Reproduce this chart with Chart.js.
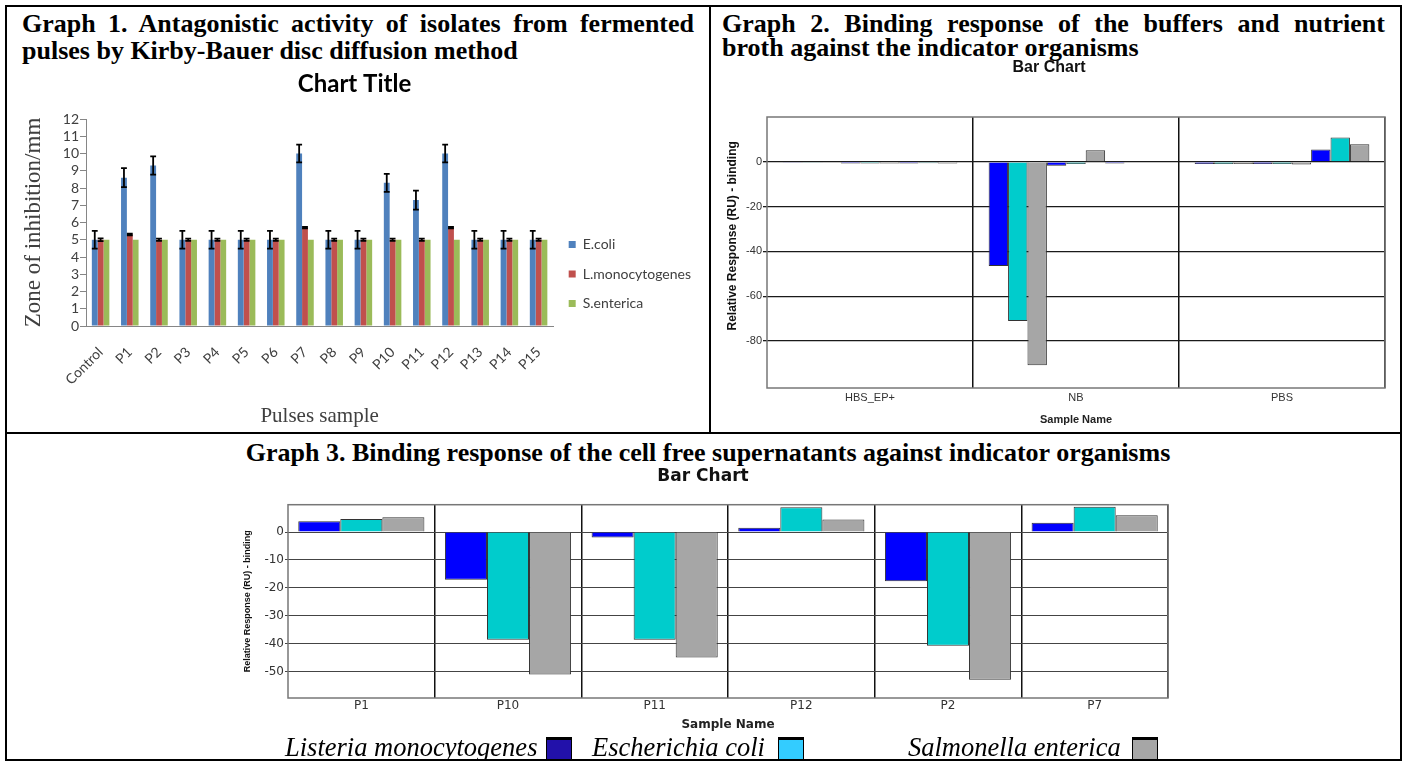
<!DOCTYPE html>
<html>
<head>
<meta charset="utf-8">
<title>Graphs 1-3</title>
<script src="https://cdn.jsdelivr.net/npm/chart.js@4.4.0/dist/chart.umd.min.js"></script>
<style>
  body { margin: 0; background: #fff; }
  #page { position: relative; width: 1406px; height: 761px; overflow: hidden; background: #fff; }
  .rule { position: absolute; background: #000; }
  .ttl { position: absolute; font: bold 26px 'Liberation Serif', 'Times New Roman', serif; line-height: 25px; color: #000; white-space: nowrap; }
  .just { white-space: normal; text-align: justify; text-align-last: justify; }
  canvas { position: absolute; }
  .leg { position: absolute; top: 732px; font: italic 26.5px 'Liberation Serif', 'Times New Roman', serif; line-height: 30px; color: #000; white-space: nowrap; }
  .sq { position: absolute; top: 737px; width: 24px; height: 19px; border: 1px solid #000; border-top-width: 3px; }
</style>
</head>
<body>
<div id="page">
  <div class="rule" style="left:5px;top:5px;width:1397px;height:2px"></div>
  <div class="rule" style="left:5px;top:759px;width:1397px;height:2px"></div>
  <div class="rule" style="left:5px;top:5px;width:2px;height:756px"></div>
  <div class="rule" style="left:1400px;top:5px;width:2px;height:756px"></div>
  <div class="rule" style="left:709px;top:5px;width:2px;height:429px"></div>
  <div class="rule" style="left:5px;top:432px;width:1397px;height:2px"></div>

  <div class="ttl just" style="left:22px;top:11px;width:672px">Graph 1. Antagonistic activity of isolates from fermented</div>
  <div class="ttl" style="left:22px;top:38px">pulses by Kirby-Bauer disc diffusion method</div>
  <div class="ttl just" style="left:722px;top:11px;width:663px">Graph 2. Binding response of the buffers and nutrient</div>
  <div class="ttl" style="left:722px;top:35px">broth against the indicator organisms</div>
  <div class="ttl" style="left:10px;top:440px;width:1396px;text-align:center">Graph 3. Binding response of the cell free supernatants against indicator organisms</div>

  <canvas id="g1" width="700" height="368" style="left:8px;top:64px"></canvas>
  <canvas id="g2" width="687" height="376" style="left:713px;top:56px"></canvas>
  <canvas id="g3" width="942" height="274" style="left:238px;top:462px"></canvas>

  <div class="leg" style="left:285px">Listeria monocytogenes</div>
  <div class="sq" style="left:546px;background:#2211aa"></div>
  <div class="leg" style="left:592px">Escherichia coli</div>
  <div class="sq" style="left:778px;background:#33ccff"></div>
  <div class="leg" style="left:908px">Salmonella enterica</div>
  <div class="sq" style="left:1132px;background:#a6a6a6"></div>
</div>
<script>
// Graph 1: zone of inhibition (mm), Kirby-Bauer
const pulseSamples = ['Control', 'P1', 'P2', 'P3', 'P4', 'P5', 'P6', 'P7', 'P8', 'P9', 'P10', 'P11', 'P12', 'P13', 'P14', 'P15'];
const ecoliZone = [5, 8.6, 9.3, 5, 5, 5, 5, 10, 5, 5, 8.3, 7.3, 10, 5, 5, 5];
const ecoliErr = [0.52, 0.55, 0.53, 0.52, 0.52, 0.52, 0.52, 0.52, 0.52, 0.52, 0.52, 0.55, 0.52, 0.52, 0.52, 0.52];
const listeriaZone = [5, 5.3, 5, 5, 5, 5, 5, 5.7, 5, 5, 5, 5, 5.7, 5, 5, 5];
const listeriaErr = [0.08, 0.05, 0.06, 0.07, 0.07, 0.07, 0.07, 0.04, 0.07, 0.07, 0.06, 0.06, 0.04, 0.07, 0.07, 0.07];
const salmonellaZone = [5, 5, 5, 5, 5, 5, 5, 5, 5, 5, 5, 5, 5, 5, 5, 5];

// Graph 2: buffers and nutrient broth, three runs per sample
const bufferSamples = ['HBS_EP+', 'NB', 'PBS'];
const g2Listeria = [[-0.2, -0.8, -0.8], [-46.5, -1.8, -0.8], [-1.0, -1.0, 5.5]];
const g2Ecoli = [[-0.2, -0.8, -0.6], [-71.1, -1.0, -0.3], [-1.0, -1.0, 10.9]];
const g2Salmonella = [[-0.2, -0.8, -0.8], [-90.8, 5.2, -0.3], [-1.0, -1.2, 7.8]];
const g2YTicks = [0, -20, -40, -60, -80];

// Graph 3: cell free supernatants
const supernatants = ['P1', 'P10', 'P11', 'P12', 'P2', 'P7'];
const g3Listeria = [3.9, -17.1, -2.0, 1.5, -17.6, 3.3];
const g3Ecoli = [4.7, -38.6, -38.6, 8.9, -40.8, 9.1];
const g3Salmonella = [5.3, -51.1, -45.0, 4.5, -53.0, 6.0];
const g3YTicks = [0, -10, -20, -30, -40, -50];

const serif = "'Liberation Serif', 'Times New Roman', serif";
const arial = "'Liberation Sans', Arial, sans-serif";
const wide = "'DejaVu Sans', Verdana, sans-serif";

Chart.defaults.animation = false;
Chart.defaults.responsive = false;
Chart.defaults.devicePixelRatio = 1;
Chart.defaults.font.family = 'Lato, sans-serif';
Chart.defaults.plugins.tooltip.enabled = false;

// error bars from dataset.errors
const errorBars = {
  id: 'errorBars',
  afterDatasetsDraw(chart) {
    const ctx = chart.ctx;
    const y = chart.scales.y;
    chart.data.datasets.forEach((ds, i) => {
      if (!ds.errors) return;
      const meta = chart.getDatasetMeta(i);
      ctx.save();
      ctx.strokeStyle = '#000';
      ctx.lineWidth = 1.8;
      meta.data.forEach((bar, j) => {
        const e = ds.errors[j];
        if (!e) return;
        const v = ds.data[j];
        const top = y.getPixelForValue(v + e);
        const bot = y.getPixelForValue(v - e);
        const half = bar.width / 2;
        ctx.beginPath();
        ctx.moveTo(bar.x, top); ctx.lineTo(bar.x, bot);
        ctx.moveTo(bar.x - half, top); ctx.lineTo(bar.x + half, top);
        ctx.moveTo(bar.x - half, bot); ctx.lineTo(bar.x + half, bot);
        ctx.stroke();
      });
      ctx.restore();
    });
  }
};

// box round the plot area
const plotFrame = {
  id: 'plotFrame',
  afterDatasetsDraw(chart, args, opts) {
    const {ctx, chartArea: a} = chart;
    ctx.save();
    ctx.strokeStyle = opts.color;
    ctx.lineWidth = opts.width;
    ctx.strokeRect(a.left, a.top, a.right - a.left, a.bottom - a.top);
    ctx.restore();
  }
};

new Chart(document.getElementById('g1'), {
  type: 'bar',
  data: {
    labels: pulseSamples,
    datasets: [
      {label: 'E.coli', data: ecoliZone, errors: ecoliErr, backgroundColor: '#4f81bd'},
      {label: 'L.monocytogenes', data: listeriaZone, errors: listeriaErr, backgroundColor: '#c0504d'},
      {label: 'S.enterica', data: salmonellaZone, backgroundColor: '#9bbb59'}
    ]
  },
  options: {
    datasets: {bar: {categoryPercentage: 0.6, barPercentage: 1}},
    layout: {padding: {right: 7}},
    plugins: {
      title: {display: true, text: 'Chart Title', color: '#000', font: {size: 24, weight: 'bold'}, padding: {top: 5.6, bottom: 20.6}},
      legend: {position: 'right', align: 'end', fullSize: false,
        labels: {boxWidth: 7, boxHeight: 7, padding: 15.5, color: '#404040', font: {size: 14}}}
    },
    scales: {
      x: {
        grid: {display: false, drawTicks: false},
        border: {color: '#868686'},
        ticks: {minRotation: 45, maxRotation: 45, autoSkip: false, padding: 18, color: '#404040', font: {size: 14}},
        title: {display: true, text: 'Pulses sample', color: '#404040', font: {family: serif, size: 21}, padding: {top: 0, bottom: 3}},
        afterFit(s) { s.height = 106; }
      },
      y: {
        min: 0, max: 12,
        ticks: {stepSize: 1, autoSkip: false, padding: 1, color: '#404040', font: {size: 14}},
        grid: {drawOnChartArea: false, tickLength: 6, color: '#868686'},
        border: {color: '#868686'},
        title: {display: true, text: 'Zone of inhibition/mm', color: '#404040', font: {family: serif, size: 23}, padding: {top: 12, bottom: 0}},
        afterFit(s) { s.width = 78; }
      }
    }
  },
  plugins: [errorBars]
});

const organisms = [
  {name: 'Listeria monocytogenes', color: '#0000ff', g2: g2Listeria, g3: g3Listeria},
  {name: 'Escherichia coli', color: '#00cccc', g2: g2Ecoli, g3: g3Ecoli},
  {name: 'Salmonella enterica', color: '#a6a6a6', g2: g2Salmonella, g3: g3Salmonella}
];

const g2Sets = [];
[0, 1, 2].forEach(run => {
  organisms.forEach(o => {
    g2Sets.push({label: o.name + ' ' + (run + 1), data: bufferSamples.map((s, i) => o.g2[i][run]),
      backgroundColor: o.color, borderColor: '#333', borderWidth: 1});
  });
});

new Chart(document.getElementById('g2'), {
  type: 'bar',
  data: {labels: bufferSamples, datasets: g2Sets},
  options: {
    datasets: {bar: {categoryPercentage: 0.848, barPercentage: 1}},
    layout: {padding: {right: 15}},
    plugins: {
      legend: {display: false},
      title: {display: true, text: 'Bar Chart', color: '#111', font: {family: arial, size: 16, weight: 'bold'}, padding: {top: 2.4, bottom: 39.4}},
      plotFrame: {color: '#777', width: 1.5}
    },
    scales: {
      x: {
        grid: {offset: true, drawTicks: false, lineWidth: 1.5,
          color: c => (c.index === 0 || c.index === bufferSamples.length) ? 'rgba(0,0,0,0)' : '#111'},
        border: {display: false},
        ticks: {padding: 3, color: '#333', font: {family: arial, size: 11}},
        title: {display: true, text: 'Sample Name', color: '#222', font: {family: arial, size: 11, weight: 'bold'}, padding: {top: 0, bottom: 5.4}},
        afterFit(s) { s.height = 44; }
      },
      y: {
        min: -101, max: 20,
        afterBuildTicks(s) { s.ticks = g2YTicks.map(v => ({value: v})); },
        grid: {color: '#1a1a1a', lineWidth: 1.3, tickLength: 4},
        border: {display: false},
        ticks: {padding: 1, color: '#333', font: {family: arial, size: 11}},
        // leading spaces lift the axis title a little, as in the original
        title: {display: true, text: ' '.repeat(10) + 'Relative Response (RU) - binding', color: '#111', font: {family: arial, size: 12, weight: 'bold'}, padding: {top: 12.8, bottom: 0}},
        afterFit(s) { s.width = 54; }
      }
    }
  },
  plugins: [plotFrame]
});

new Chart(document.getElementById('g3'), {
  type: 'bar',
  data: {
    labels: supernatants,
    datasets: organisms.map(o => ({label: o.name, data: o.g3, backgroundColor: o.color, borderColor: '#333', borderWidth: 1}))
  },
  options: {
    datasets: {bar: {categoryPercentage: 0.86, barPercentage: 1}},
    layout: {padding: {right: 12}},
    plugins: {
      legend: {display: false},
      title: {display: true, text: 'Bar Chart', color: '#111', font: {family: wide, size: 17, weight: 'bold'}, padding: {top: 4.8, bottom: 17.5}},
      plotFrame: {color: '#777', width: 1.5}
    },
    scales: {
      x: {
        grid: {offset: true, drawTicks: false, lineWidth: 1.5,
          color: c => (c.index === 0 || c.index === supernatants.length) ? 'rgba(0,0,0,0)' : '#111'},
        border: {display: false},
        ticks: {padding: 1, color: '#333', font: {family: wide, size: 12}},
        title: {display: true, text: 'Sample Name', color: '#222', font: {family: wide, size: 12, weight: 'bold'}, padding: {top: 0, bottom: 3.8}},
        afterFit(s) { s.height = 38; }
      },
      y: {
        min: -59.5, max: 9.8,
        afterBuildTicks(s) { s.ticks = g3YTicks.map(v => ({value: v})); },
        grid: {color: '#444', lineWidth: 1, tickLength: 3},
        border: {display: false},
        ticks: {padding: 1, color: '#333', font: {family: wide, size: 12}},
        title: {display: true, text: 'Relative Response (RU) - binding', color: '#111', font: {family: arial, size: 9, weight: 'bold'}, padding: {top: 4.6, bottom: 0}},
        afterFit(s) { s.width = 50; }
      }
    }
  },
  plugins: [plotFrame]
});
</script>
</body>
</html>
